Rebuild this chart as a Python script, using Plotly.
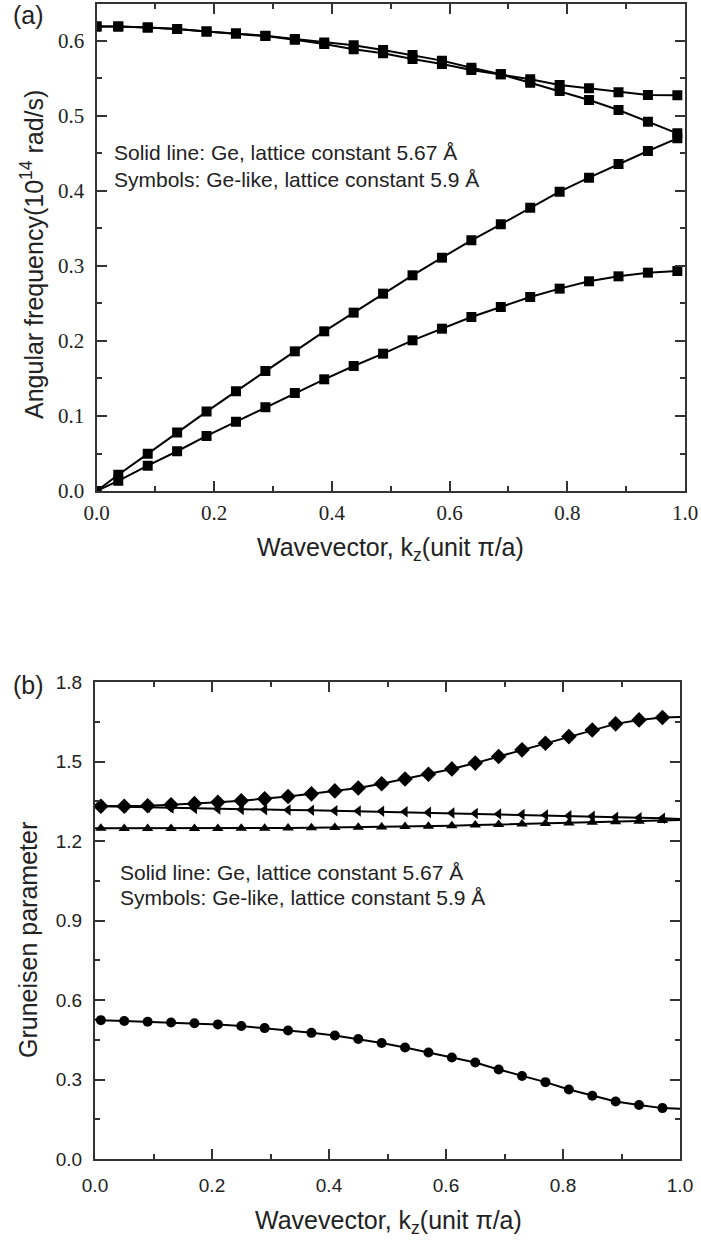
import plotly.graph_objects as go

W, H = 701, 1241

# ---------------- data: panel (a) ----------------
k_top = [0.0, 0.037, 0.087, 0.137, 0.187, 0.237, 0.287, 0.337, 0.387, 0.437, 0.487,
         0.537, 0.587, 0.637, 0.687, 0.737, 0.787, 0.837, 0.887, 0.937, 0.987]
opt_a = [0.6193, 0.6192, 0.618, 0.616, 0.6125, 0.610, 0.6065, 0.6015, 0.596, 0.589, 0.5836,
         0.576, 0.5693, 0.5613, 0.5556, 0.5489, 0.5413, 0.5369, 0.5316, 0.528, 0.5276]
opt_b = [0.6193, 0.6192, 0.618, 0.616, 0.6125, 0.610, 0.607, 0.6025, 0.598, 0.5942, 0.588,
         0.5813, 0.5738, 0.5644, 0.5556, 0.5444, 0.5333, 0.5213, 0.508, 0.4924, 0.4769]
la = [0.0, 0.0216, 0.0495, 0.078, 0.1059, 0.1329, 0.16, 0.1862, 0.2129, 0.2378, 0.2631,
      0.2876, 0.3111, 0.3342, 0.3556, 0.3778, 0.3991, 0.4178, 0.436, 0.4533, 0.4702]
ta = [0.0, 0.0135, 0.0338, 0.053, 0.0734, 0.0923, 0.1117, 0.1307, 0.1489, 0.1667, 0.1831,
      0.2009, 0.2164, 0.232, 0.2453, 0.2587, 0.2698, 0.2796, 0.2862, 0.2911, 0.2933]

# ---------------- data: panel (b) ----------------
k_bot = [0.01, 0.05, 0.09, 0.13, 0.17, 0.21, 0.25, 0.29, 0.33, 0.37, 0.41, 0.45, 0.49,
         0.53, 0.57, 0.61, 0.65, 0.69, 0.73, 0.77, 0.81, 0.85, 0.89, 0.93, 0.97]
k_bot_ends = [0.0, 1.0]
g_diamond = [1.331, 1.331, 1.333, 1.337, 1.341, 1.346, 1.352, 1.359, 1.368, 1.378, 1.389,
             1.40, 1.416, 1.434, 1.452, 1.472, 1.494, 1.519, 1.544, 1.569, 1.594, 1.619,
             1.642, 1.657, 1.666]
g_diamond_ends = [1.331, 1.668]
g_left = [1.331, 1.329, 1.327, 1.325, 1.323, 1.321, 1.319, 1.318, 1.317, 1.316, 1.314,
          1.313, 1.312, 1.31, 1.308, 1.306, 1.304, 1.302, 1.3, 1.298, 1.295, 1.293,
          1.29, 1.288, 1.286]
g_left_ends = [1.332, 1.283]
g_up = [1.248, 1.247, 1.247, 1.247, 1.247, 1.247, 1.248, 1.248, 1.249, 1.25, 1.251,
        1.252, 1.253, 1.255, 1.256, 1.258, 1.26, 1.262, 1.264, 1.266, 1.268, 1.271,
        1.273, 1.275, 1.277]
g_up_ends = [1.248, 1.279]
g_circle = [0.524, 0.521, 0.518, 0.515, 0.512, 0.508, 0.502, 0.494, 0.485, 0.476, 0.466,
            0.453, 0.438, 0.421, 0.402, 0.383, 0.364, 0.338, 0.313, 0.29, 0.262, 0.239,
            0.217, 0.204, 0.192]
g_circle_ends = [0.526, 0.19]

fig = go.Figure()

# panel (a): solid lines (Ge) + square symbols (Ge-like)
for ys in (opt_a, opt_b, la, ta):
    fig.add_trace(go.Scatter(x=k_top, y=ys, mode="lines", xaxis="x", yaxis="y",
                             line=dict(color="black", width=2), showlegend=False))
    fig.add_trace(go.Scatter(x=k_top, y=ys, mode="markers", xaxis="x", yaxis="y",
                             marker=dict(symbol="square", size=10, color="black"),
                             showlegend=False))

# panel (b)
for ys, ends, sym, sz in ((g_diamond, g_diamond_ends, "diamond", 12),
                          (g_left, g_left_ends, "triangle-left", 10),
                          (g_up, g_up_ends, "triangle-up", 10),
                          (g_circle, g_circle_ends, "circle", 10)):
    fig.add_trace(go.Scatter(x=[k_bot_ends[0]] + k_bot + [k_bot_ends[1]],
                             y=[ends[0]] + ys + [ends[1]], mode="lines",
                             xaxis="x2", yaxis="y2",
                             line=dict(color="black", width=2), showlegend=False))
    fig.add_trace(go.Scatter(x=k_bot, y=ys, mode="markers", xaxis="x2", yaxis="y2",
                             marker=dict(symbol=sym, size=sz, color="black"),
                             showlegend=False))

AX = "#333333"


def axis(dom, rng, dtick, mdtick, anchor, font, standoff):
    return dict(domain=dom, range=rng, anchor=anchor, dtick=dtick, tick0=0,
                tickformat=".1f", showline=True, linecolor=AX, linewidth=2,
                mirror="ticks", ticks="inside", ticklen=10, tickwidth=2, tickcolor=AX,
                minor=dict(ticks="inside", ticklen=5, tickwidth=2, tickcolor=AX,
                           dtick=mdtick, tick0=0),
                ticklabelstandoff=standoff, automargin=False,
                showgrid=False, zeroline=False, tickfont=font)


serif = dict(family="Liberation Serif", size=21, color="#222")
sans = dict(family="Liberation Sans", size=19, color="#222")


def px(x):
    return x / W


def py(y):
    return 1 - y / H


fig.update_layout(
    template="none", autosize=False,
    width=W, height=H, margin=dict(l=0, r=0, t=0, b=0, pad=0),
    paper_bgcolor="white", plot_bgcolor="white",
    xaxis=axis([px(96.5), px(685)], [0, 1.0], 0.2, 0.1, "y", serif, 2),
    yaxis=axis([py(491), py(4)], [0, 0.6493], 0.1, 0.05, "x", serif, 6),
    xaxis2=axis([px(95), px(680)], [0, 1.0], 0.2, 0.1, "y2", sans, 8),
    yaxis2=axis([py(1159), py(682)], [0, 1.8], 0.3, 0.15, "x2", sans, 7),
)

tfont = dict(family="Liberation Sans", size=25, color="#222")
afont = dict(family="Liberation Sans", size=21, color="#222")
anns = [
    dict(x=px(28), y=py(15), text="(a)", font=tfont),
    dict(x=px(28), y=py(685), text="(b)", font=tfont),
    dict(x=px(32), y=py(255), text="Angular frequency(10<sup>14</sup> rad/s)", font=tfont,
         textangle=-90),
    dict(x=px(390), y=py(549), text="Wavevector, k<sub>z</sub>(unit π/a)", font=tfont),
    dict(x=px(28), y=py(940), text="Gruneisen parameter", font=tfont, textangle=-90),
    dict(x=px(388), y=py(1222), text="Wavevector, k<sub>z</sub>(unit π/a)", font=tfont),
    dict(x=px(112), y=py(152), text="Solid line: Ge, lattice constant 5.67 Å", font=afont,
         xanchor="left"),
    dict(x=px(112), y=py(179), text="Symbols: Ge-like, lattice constant 5.9 Å", font=afont,
         xanchor="left"),
    dict(x=px(118), y=py(872), text="Solid line: Ge, lattice constant 5.67 Å", font=afont,
         xanchor="left"),
    dict(x=px(118), y=py(897), text="Symbols: Ge-like, lattice constant 5.9 Å", font=afont,
         xanchor="left"),
]
for a in anns:
    a.setdefault("xanchor", "center")
    a.update(xref="paper", yref="paper", yanchor="middle", showarrow=False)
fig.update_layout(annotations=anns)

fig.write_html("out.html", post_script="document.body.style.margin='0px';")
